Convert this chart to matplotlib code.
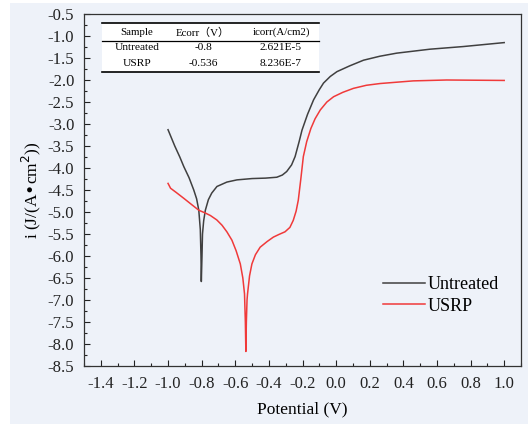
import numpy as np
import matplotlib
matplotlib.use('Agg')
import matplotlib.pyplot as plt
from matplotlib.ticker import MultipleLocator, FormatStrFormatter
from matplotlib.patches import Rectangle

plt.rcParams['font.family'] = ['Liberation Serif', 'Noto Sans CJK SC', 'DejaVu Serif']

# Untreated curve
untreated_v = [-1.0, -0.96, -0.93, -0.906, -0.875, -0.847, -0.83, -0.817, -0.808, -0.804,
               -0.802, -0.798, -0.795, -0.788, -0.778, -0.76, -0.74, -0.709, -0.65, -0.59,
               -0.5, -0.42, -0.353, -0.32, -0.294, -0.265, -0.244, -0.22, -0.203, -0.17,
               -0.134, -0.10, -0.075, -0.035, 0.005, 0.08, 0.163, 0.26, 0.36, 0.558,
               0.756, 1.0]
untreated_i = [-3.13, -3.50, -3.75, -3.97, -4.22, -4.50, -4.70, -4.96, -5.4, -6.0,
               -6.58, -6.0, -5.5, -5.2, -4.96, -4.72, -4.57, -4.42, -4.32, -4.27,
               -4.24, -4.23, -4.21, -4.16, -4.08, -3.93, -3.74, -3.40, -3.14, -2.78,
               -2.45, -2.22, -2.07, -1.92, -1.81, -1.68, -1.55, -1.46, -1.39, -1.30,
               -1.24, -1.15]

# USRP curve
usrp_v = [-1.0, -0.985, -0.95, -0.906, -0.86, -0.817, -0.78, -0.748, -0.71, -0.679,
          -0.65, -0.62, -0.595, -0.57, -0.555, -0.545, -0.540, -0.537, -0.534, -0.530,
          -0.527, -0.515, -0.501, -0.48, -0.452, -0.41, -0.373, -0.34, -0.304, -0.275,
          -0.255, -0.238, -0.225, -0.21, -0.195, -0.175, -0.15, -0.125, -0.094, -0.055,
          -0.015, 0.04, 0.103, 0.18, 0.262, 0.459, 0.657, 1.0]
usrp_i = [-4.35, -4.46, -4.56, -4.69, -4.83, -4.96, -5.02, -5.08, -5.18, -5.30,
          -5.45, -5.64, -5.88, -6.18, -6.50, -6.86, -7.5, -8.17, -7.5, -7.0,
          -6.86, -6.45, -6.18, -5.97, -5.80, -5.67, -5.57, -5.51, -5.45, -5.35,
          -5.19, -4.98, -4.73, -4.25, -3.74, -3.40, -3.10, -2.88, -2.68, -2.50,
          -2.38, -2.28, -2.19, -2.12, -2.08, -2.02, -2.00, -2.01]

table_header = ['Sample', 'Ecorr\uff08V\uff09', 'icorr(A/cm2)']
table_rows = [['Untreated', '-0.8', '2.621E-5'],
              ['USRP', '-0.536', '8.236E-7']]

bg = '#eef2f9'
W, H = 528, 424
fig = plt.figure(figsize=(5.28, 4.24), dpi=100, facecolor='white')
fig.patches.append(Rectangle((10 / W, 0), 1, 1 - 3 / H, transform=fig.transFigure,
                             facecolor=bg, edgecolor='none', zorder=-10))

ax = fig.add_axes([84 / W, 1 - 366 / H, (521 - 84) / W, (366 - 14) / H])
ax.set_facecolor(bg)

ax.plot(untreated_v, untreated_i, color='#404040', lw=1.1, label='Untreated')
ax.plot(usrp_v, usrp_i, color='#f03a3a', lw=1.1, label='USRP')

ax.set_xlim(-1.5, 1.1)
ax.set_ylim(-8.5, -0.5)
ax.xaxis.set_major_locator(MultipleLocator(0.2))
ax.xaxis.set_minor_locator(MultipleLocator(0.1))
ax.yaxis.set_major_locator(MultipleLocator(0.5))
ax.yaxis.set_minor_locator(MultipleLocator(0.25))
ax.xaxis.set_major_formatter(FormatStrFormatter('%.1f'))
ax.yaxis.set_major_formatter(FormatStrFormatter('%.1f'))
ax.tick_params(which='both', direction='in', top=False, right=False, labelsize=12,
               colors='#222222', width=0.8)
ax.tick_params(which='major', length=4, pad=7)
ax.tick_params(which='minor', length=2.2)
for s in ax.spines.values():
    s.set_linewidth(0.9)
    s.set_color('#333333')

ax.set_xlabel('Potential (V)', fontsize=12.5, labelpad=7)
ax.set_ylabel('i (J/(A\u2022cm$^2$))', fontsize=12.5, labelpad=3)

ax.legend(loc='upper left', bbox_to_anchor=((376 - 84) / (521 - 84), 1 - (269 - 14) / 352),
          frameon=False, fontsize=13, handlelength=2.3, handletextpad=0.15,
          labelspacing=0.25, borderaxespad=0)

# inset table
def px(x, y):
    return x / W, 1 - y / H

x0, x1 = 102, 319
y_top, y_mid, y_bot = 23, 40.5, 72
fig.patches.append(Rectangle(px(x0, y_bot), (x1 - x0) / W, (y_bot - y_top) / H,
                             transform=fig.transFigure, facecolor='white',
                             edgecolor='none', zorder=5))
for yy, lw in [(y_top, 1.2), (y_mid, 0.9), (y_bot, 1.2)]:
    fig.add_artist(plt.Line2D([x0 / W, x1 / W], [1 - yy / H, 1 - yy / H],
                              transform=fig.transFigure, color='black', lw=lw, zorder=6))
col_x = [137, 203, 281]
row_y = [32.5, 47.5, 63]
for j, txt in enumerate(table_header):
    fig.text(*px(col_x[j], row_y[0]), txt, ha='center', va='center', fontsize=7.8, zorder=7)
for i, row in enumerate(table_rows):
    for j, txt in enumerate(row):
        fig.text(*px(col_x[j], row_y[i + 1]), txt, ha='center', va='center',
                 fontsize=8.2, zorder=7)

fig.savefig('out.png', dpi=100, facecolor='white')
